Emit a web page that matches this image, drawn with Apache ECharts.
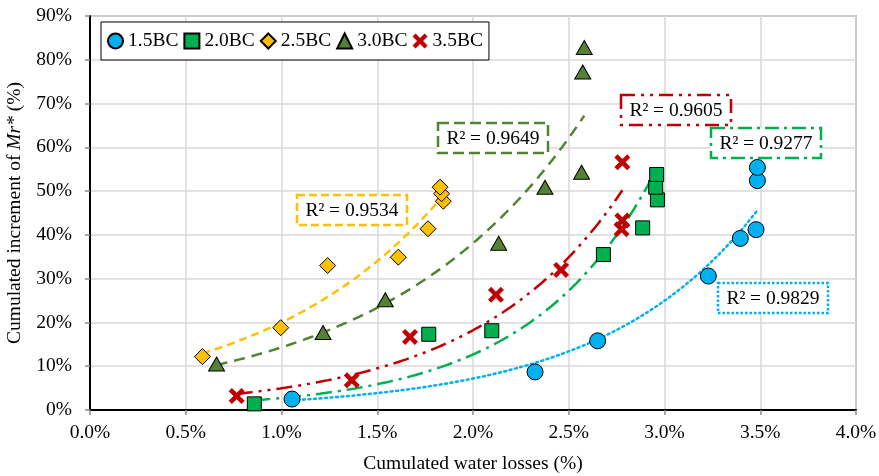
<!DOCTYPE html>
<html>
<head>
<meta charset="utf-8">
<script src="https://cdn.jsdelivr.net/npm/echarts@6/dist/echarts.min.js"></script>
<style>html,body{margin:0;padding:0;background:#fff;}#c{width:879px;height:476px;}</style>
</head>
<body>
<div id="c"></div>
<script>
// ---- data (x: cumulated water losses %, y: cumulated increment of Mr* %) ----
const seriesNames = ['1.5BC', '2.0BC', '2.5BC', '3.0BC', '3.5BC'];

const x15 = [1.055, 2.324, 2.651, 3.229, 3.396, 3.478, 3.485, 3.485];
const y15 = [2.5, 8.7, 15.8, 30.6, 39.2, 41.2, 52.4, 55.4];

const x20 = [0.858, 1.769, 2.098, 2.681, 2.886, 2.963, 2.954, 2.959];
const y20 = [1.4, 17.3, 18.1, 35.5, 41.6, 48.0, 50.9, 53.8];

const x25 = [0.587, 0.996, 1.241, 1.610, 1.765, 1.845, 1.836, 1.828];
const y25 = [12.2, 18.8, 33.0, 34.9, 41.4, 47.7, 49.4, 50.9];

const x30 = [0.661, 1.217, 1.542, 2.134, 2.376, 2.567, 2.573, 2.581];
const y30 = [10.5, 17.7, 25.2, 38.1, 50.9, 54.3, 77.2, 82.8];

const x35 = [0.766, 1.367, 1.671, 2.120, 2.460, 2.776, 2.780, 2.780];
const y35 = [3.2, 6.8, 16.7, 26.3, 32.0, 41.3, 43.3, 56.6];

const r2Labels = ['R² = 0.9829', 'R² = 0.9277', 'R² = 0.9534', 'R² = 0.9649', 'R² = 0.9605'];

const xTicks = [0, 0.5, 1.0, 1.5, 2.0, 2.5, 3.0, 3.5, 4.0];
const yTicks = [0, 10, 20, 30, 40, 50, 60, 70, 80, 90];

// ---- styling ----
const FONT = '"Liberation Serif", "Times New Roman", serif';
const FS = 19.5;
const colors = ['#00B0F0', '#00B050', '#FFC000', '#548235', '#C00000'];
const symbols = ['circle', 'rect', 'diamond', 'triangle',
  'path://M2,0 L5,3 L8,0 L10,2 L7,5 L10,8 L8,10 L5,7 L2,10 L0,8 L3,5 L0,2 Z'];
const symSizes = [16, 14, 16, [16, 14], 16];
const dashes = [[2, 3.5], [16, 6, 3, 6], [8, 5], [11, 7], [16, 6, 3, 6, 3, 6]];
const boxDashes = [[2.5, 2], [14, 5, 3, 5], [8, 4], [11, 5], [14, 6, 3, 6, 3, 6]];
// R² box placement (pixels, layout only)
const boxPos = [[718, 283], [711, 128], [297, 195], [438, 123], [621, 95]];
const BOX_W = 110, BOX_H = 30;

const xs = [x15, x20, x25, x30, x35];
const ys = [y15, y20, y25, y30, y35];

// Exponential trendline (least squares on ln y), as Excel does
function expFit(x, y) {
  const n = x.length;
  let sx = 0, sy = 0, sxx = 0, sxy = 0;
  for (let i = 0; i < n; i++) {
    const ly = Math.log(y[i]);
    sx += x[i]; sy += ly; sxx += x[i] * x[i]; sxy += x[i] * ly;
  }
  const b = (n * sxy - sx * sy) / (n * sxx - sx * sx);
  const a = Math.exp((sy - b * sx) / n);
  return { a, b };
}
function trendPoints(x, y) {
  const f = expFit(x, y);
  const lo = Math.min(...x), hi = Math.max(...x);
  const pts = [];
  const N = 80;
  for (let i = 0; i <= N; i++) {
    const xv = lo + (hi - lo) * i / N;
    pts.push([xv, f.a * Math.exp(f.b * xv)]);
  }
  return pts;
}

const series = [];
// trendlines first (under markers)
for (let k = 0; k < 5; k++) {
  series.push({
    name: seriesNames[k] + ' trend',
    type: 'line',
    data: trendPoints(xs[k], ys[k]),
    showSymbol: false,
    silent: true,
    z: 2,
    lineStyle: { color: colors[k], width: 2.5, type: dashes[k], cap: k === 0 ? 'round' : 'butt' },
    animation: false
  });
}
for (let k = 0; k < 5; k++) {
  series.push({
    name: seriesNames[k],
    type: 'scatter',
    data: xs[k].map((v, i) => [v, ys[k][i]]),
    symbol: symbols[k],
    symbolSize: symSizes[k],
    z: 3,
    itemStyle: k === 4
      ? { color: colors[k], opacity: 1 }
      : { color: colors[k], borderColor: '#000', borderWidth: 1, opacity: 1 },
    animation: false
  });
}

const graphics = [];
r2Labels.forEach((t, k) => {
  const bx = boxPos[k][0], by = boxPos[k][1];
  graphics.push({
    type: 'rect', z: 20,
    shape: { x: bx, y: by, width: BOX_W, height: BOX_H },
    style: { fill: '#fff', stroke: colors[k], lineWidth: 2.5, lineDash: boxDashes[k] }
  });
  graphics.push({
    type: 'text', z: 21,
    x: bx + BOX_W / 2, y: by + BOX_H / 2 + 1,
    style: { text: t, font: FS + 'px ' + FONT, fill: '#000', align: 'center', verticalAlign: 'middle',
      textAlign: 'center', textVerticalAlign: 'middle' }
  });
});

const chart = echarts.init(document.getElementById('c'), null, { renderer: 'canvas' });
chart.setOption({
  animation: false,
  backgroundColor: '#fff',
  textStyle: { fontFamily: FONT },
  grid: { left: 90, right: 23, top: 16, bottom: 66, show: true, borderColor: '#8c8c8c', borderWidth: 1.5,
    backgroundColor: 'transparent', containLabel: false, outerBoundsMode: 'none' },
  legend: {
    data: seriesNames,
    left: 101, top: 22,
    padding: [9, 6, 9, 6],
    itemGap: 5,
    itemWidth: 15, itemHeight: 15,
    borderColor: '#000', borderWidth: 1,
    backgroundColor: '#fff',
    textStyle: { fontFamily: FONT, fontSize: FS, color: '#000' }
  },
  xAxis: {
    type: 'value',
    min: xTicks[0], max: xTicks[xTicks.length - 1], interval: 0.5,
    name: 'Cumulated water losses (%)',
    nameLocation: 'middle', nameGap: 44,
    nameTextStyle: { fontFamily: FONT, fontSize: FS, color: '#000' },
    axisLine: { show: true, onZero: false, lineStyle: { color: '#000', width: 2 } },
    axisTick: { show: true, length: 5, lineStyle: { color: '#8c8c8c', width: 1.5 } },
    axisLabel: { fontFamily: FONT, fontSize: FS, color: '#000', margin: 13, formatter: v => v.toFixed(1) + '%' },
    splitLine: { show: true, lineStyle: { color: '#d9d9d9', width: 1.5 } }
  },
  yAxis: {
    type: 'value',
    min: yTicks[0], max: yTicks[yTicks.length - 1], interval: 10,
    name: 'Cumulated increment of {i|Mr*} (%)',
    nameLocation: 'middle', nameGap: 56, nameRotate: 90,
    nameTextStyle: { fontFamily: FONT, fontSize: FS, color: '#000',
      rich: { i: { fontFamily: FONT, fontSize: FS, fontStyle: 'italic', color: '#000' } } },
    axisLine: { show: true, onZero: false, lineStyle: { color: '#000', width: 2 } },
    axisTick: { show: true, length: 5, lineStyle: { color: '#8c8c8c', width: 1.5 } },
    axisLabel: { fontFamily: FONT, fontSize: FS, color: '#000', margin: 18, formatter: v => v + '%' },
    splitLine: { show: true, lineStyle: { color: '#d9d9d9', width: 1.5 } }
  },
  graphic: graphics,
  series: series
});
</script>
</body>
</html>
